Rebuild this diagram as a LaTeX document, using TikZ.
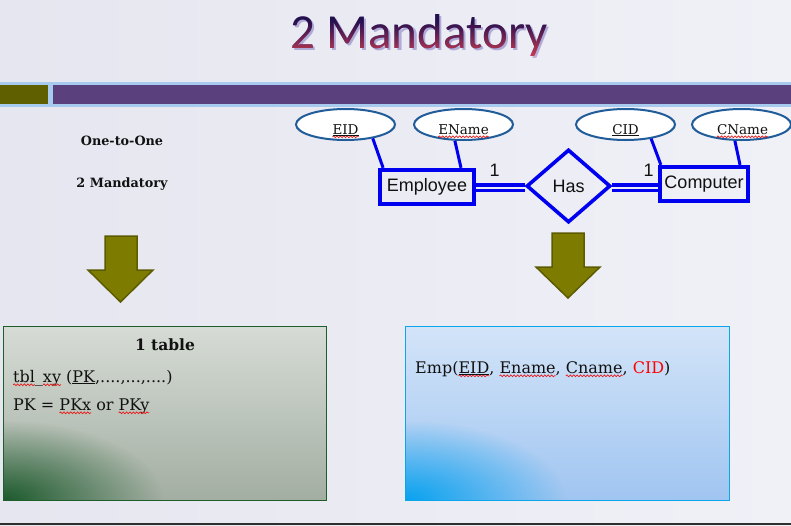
\documentclass[tikz,border=0pt]{standalone}
\usepackage{fontspec}
\setmainfont{DejaVu Serif}
\newfontfamily\erfont{Liberation Sans}
\newfontfamily\headfont{Carlito}
\usetikzlibrary{shapes.geometric,fadings,decorations.pathmorphing}

\definecolor{pagebgL}{HTML}{E6E6F0}
\definecolor{pagebgR}{HTML}{F0F0F7}
\definecolor{linkgap}{HTML}{EAEAF3}
\definecolor{titleink}{HTML}{24104E}
\definecolor{titlemid}{HTML}{6E0C45}
\definecolor{titlebottom}{HTML}{D04010}
\definecolor{titleglow}{HTML}{A6A0D2}
\definecolor{bandsky}{HTML}{A8CAEE}
\definecolor{bandolive}{HTML}{605F00}
\definecolor{bandplum}{HTML}{5A417D}
\definecolor{attrline}{HTML}{1F5C99}
\definecolor{erblue}{HTML}{0000F0}
\definecolor{inkblack}{HTML}{111111}
\definecolor{spellred}{HTML}{E81818}
\definecolor{arrowfill}{HTML}{7D7C00}
\definecolor{arrowedge}{HTML}{5C5B00}
\definecolor{tabTop}{HTML}{D6DCD5}
\definecolor{tabBottom}{HTML}{A3AEA2}
\definecolor{tabEdge}{HTML}{1D5E2A}
\definecolor{tabSpot}{HTML}{1C5A2C}
\definecolor{relTop}{HTML}{D3E4F8}
\definecolor{relBottom}{HTML}{A0C5F1}
\definecolor{relEdge}{HTML}{0BA5EC}
\definecolor{relSpot}{HTML}{08A2EF}
\definecolor{footline}{HTML}{2E2E2E}

% red wavy spell-check underline under a word
\newcommand\spellwave[1]{\tikz[baseline=(sw.base),x=1pt,y=1pt]{%
  \node[anchor=base,inner sep=0pt,outer sep=0pt,draw=none,fill=none,text=inkblack] (sw) {#1};%
  \draw[overlay,spellred,line width=0.7pt,decorate,
    decoration={snake,amplitude=0.9pt,segment length=3.4pt}]
    ([yshift=-2.8pt]sw.base west) -- ([yshift=-2.8pt]sw.base east);}}

\tikzfading[name=cornerglow, inner color=transparent!0, outer color=transparent!100]

\begin{document}
\begin{tikzpicture}[x=1pt,y=-1pt,
  titlestyle/.style={font=\headfont\fontsize{49}{55}\selectfont, inner sep=0pt},
  attr/.style={ellipse, draw=attrline, line width=2pt, fill=white,
    minimum width=99pt, minimum height=31pt, inner sep=0pt},
  attrtext/.style={font=\fontsize{13.5}{16}\selectfont, text=inkblack, inner sep=0pt, anchor=base},
  entity/.style={rectangle, draw=erblue, line width=3.8pt, inner sep=0pt,
    font=\erfont\fontsize{18}{21}\selectfont, text=inkblack},
  relation/.style={diamond, draw=erblue, line width=3.6pt, inner sep=0pt,
    minimum width=84pt, minimum height=73pt,
    font=\erfont\fontsize{18}{21}\selectfont, text=inkblack},
  link/.style={draw=erblue, line width=3pt},
  total/.style={draw=erblue, line width=3.5pt, double=linkgap, double distance=2pt},
  card/.style={font=\erfont\fontsize{18}{21}\selectfont, text=inkblack, inner sep=0pt, anchor=base},
  sidenote/.style={font=\bfseries\fontsize{12.8}{15}\selectfont, text=inkblack, inner sep=0pt, anchor=base},
  boxtext/.style={font=\fontsize{16}{19}\selectfont, text=inkblack, inner sep=0pt, anchor=base west},
  bigarrow/.style={fill=arrowfill, draw=arrowedge, line width=1.5pt, line join=miter}]

\useasboundingbox (0,0) rectangle (791,525);

% page background
\shade[left color=pagebgL, right color=pagebgR] (0,0) rectangle (791,525);

% heading with a soft drop shadow; a lighten-blended ramp turns the
% letters from navy to crimson
\node[titlestyle, anchor=base, text=titleglow, opacity=0.85] (titleshadow) at (421.5,50.5) {2 Mandatory};
\node[titlestyle, anchor=base, text=titleink] (title) at (419,48) {2 Mandatory};
\begin{scope}[blend mode=lighten]
  \shade[top color=black, middle color=titlemid, bottom color=titlebottom]
    ([yshift=-2pt]title.south west) rectangle ([yshift=2pt]title.north east);
\end{scope}

% title band
\fill[bandsky] (0,81.5) rectangle (791,107);
\fill[bandolive] (0,84.5) rectangle (48,104);
\fill[bandplum] (53,84.5) rectangle (791,104);

% side notes
\node[sidenote] (kind) at (122,145) {One-to-One};
\node[sidenote] (mand) at (122,187) {2 Mandatory};

% ER diagram
\node[attr] (eid) at (345.5,124.5) {};
\node[attr] (ename) at (463.5,124.5) {};
\node[attr] (cid) at (625.5,124.5) {};
\node[attr] (cname) at (741.5,124.5) {};

\node[attrtext] (eidt) at (345.5,134) {\underline{\spellwave{EID}}};
\node[attrtext] (enamet) at (463.5,134) {\spellwave{EName}};
\node[attrtext] (cidt) at (625.5,134) {\underline{CID}};
\node[attrtext] (cnamet) at (742.5,134) {\spellwave{CName}};

\node[entity, minimum width=94pt, minimum height=34.5pt] (emp) at (427,187) {Employee};
\node[entity, minimum width=88.5pt, minimum height=34.5pt] (comp) at (704,184) {Computer};
\node[relation] (has) at (568.5,186) {Has};

\draw[link] (eid.-27) -- ([xshift=5pt]emp.north west);
\draw[link] (ename.-118) -- ([xshift=34pt]emp.north);
\draw[link] (cid.-29) -- ([xshift=3pt]comp.north west);
\draw[link] (cname.-112) -- ([xshift=36pt]comp.north);

\draw[total] ([yshift=-0.5pt]emp.east) -- ([yshift=-0.5pt]emp.east -| has.west);
\draw[total] ([yshift=-1.5pt]has.east) -- ([yshift=-1.5pt]has.east -| comp.west);

\node[card] (cardE) at (494.5,176) {1};
\node[card] (cardC) at (648.5,176) {1};

% downward arrows
\draw[bigarrow] (105,236) -- (137,236) -- (137,270) -- (153,270) -- (120.5,302)
  -- (88,270) -- (105,270) -- cycle;
\draw[bigarrow] (552,233) -- (584,233) -- (584,267) -- (600,267) -- (568,298)
  -- (536,267) -- (552,267) -- cycle;

% single-table box
\node[rectangle, minimum width=323pt, minimum height=173.5pt, inner sep=0pt,
  top color=tabTop, bottom color=tabBottom] (tablebox) at (165,413.25) {};
\begin{scope}
  \clip (tablebox.south west) rectangle (tablebox.north east);
  \fill[tabSpot, path fading=cornerglow] (tablebox.south west) ellipse [x radius=160, y radius=80];
\end{scope}
\draw[tabEdge, line width=1pt] (tablebox.south west) rectangle (tablebox.north east);
\node[font=\bfseries\fontsize{15.5}{19}\selectfont, text=inkblack, inner sep=0pt, anchor=base] (tabhead) at (165,350) {1 table};
\node[boxtext] (tabline) at (13,382) {\spellwave{tbl}\_\spellwave{xy} (\underline{PK},....,...,....)};
\node[boxtext] (pkline) at (13,410) {PK = \spellwave{PKx} or \spellwave{PKy}};

% relation schema box
\node[rectangle, minimum width=323pt, minimum height=173.5pt, inner sep=0pt,
  top color=relTop, bottom color=relBottom] (relbox) at (567.5,413.25) {};
\begin{scope}
  \clip (relbox.south west) rectangle (relbox.north east);
  \fill[relSpot, path fading=cornerglow] (relbox.south west) ellipse [x radius=160, y radius=80];
\end{scope}
\draw[relEdge, line width=1pt] (relbox.south west) rectangle (relbox.north east);
\node[boxtext] (reltext) at (415,373) {Emp(\underline{\spellwave{EID}}, \spellwave{Ename}, \spellwave{Cname}, \textcolor{red}{CID})};

% footer rule
\fill[footline] (0,522.5) rectangle (791,525);
\end{tikzpicture}
\end{document}
